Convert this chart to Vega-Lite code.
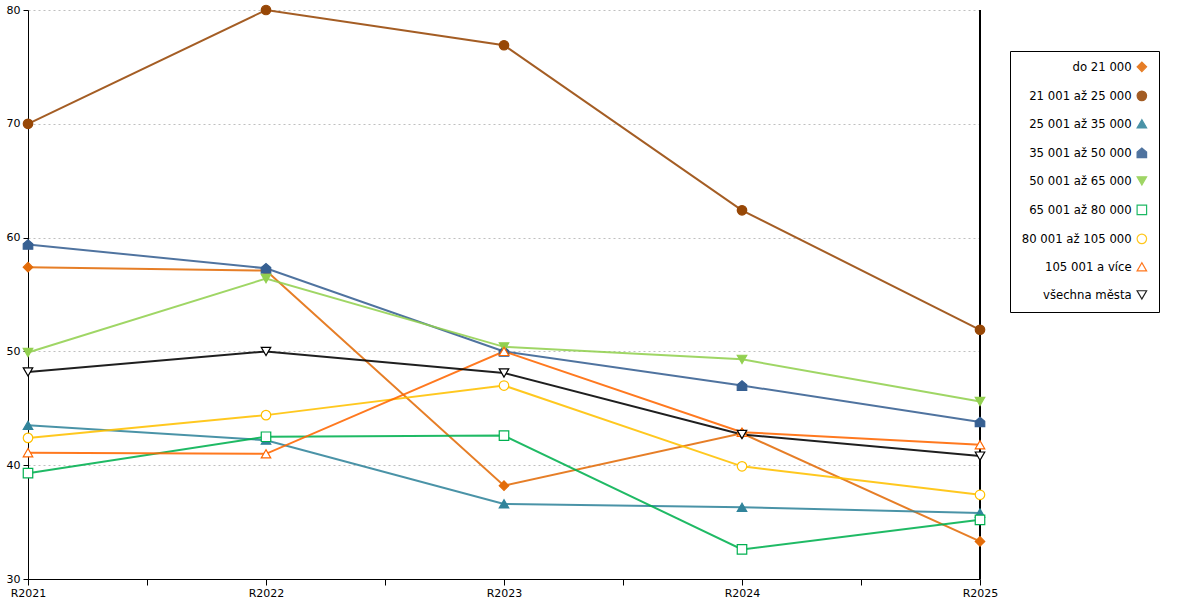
{
  "$schema": "https://vega.github.io/schema/vega-lite/v6.json",
  "width": 952,
  "height": 569,
  "padding": {"left": 6, "top": 2, "right": 0, "bottom": 0},
  "background": "white",
  "config": {
    "font": "DejaVu Sans",
    "view": {"stroke": null},
    "axis": {"labelFont": "DejaVu Sans", "labelFontSize": 11, "labelColor": "black", "domainColor": "black", "tickColor": "black"}
  },
  "data": {
    "values": [
      {"skupina": "do 21 000", "rok": 2021, "hodnota": 57.4},
      {"skupina": "do 21 000", "rok": 2022, "hodnota": 57.1},
      {"skupina": "do 21 000", "rok": 2023, "hodnota": 38.2},
      {"skupina": "do 21 000", "rok": 2024, "hodnota": 42.8},
      {"skupina": "do 21 000", "rok": 2025, "hodnota": 33.3},
      {"skupina": "21 001 až 25 000", "rok": 2021, "hodnota": 70.0},
      {"skupina": "21 001 až 25 000", "rok": 2022, "hodnota": 80.0},
      {"skupina": "21 001 až 25 000", "rok": 2023, "hodnota": 76.9},
      {"skupina": "21 001 až 25 000", "rok": 2024, "hodnota": 62.4},
      {"skupina": "21 001 až 25 000", "rok": 2025, "hodnota": 51.9},
      {"skupina": "25 001 až 35 000", "rok": 2021, "hodnota": 43.5},
      {"skupina": "25 001 až 35 000", "rok": 2022, "hodnota": 42.2},
      {"skupina": "25 001 až 35 000", "rok": 2023, "hodnota": 36.6},
      {"skupina": "25 001 až 35 000", "rok": 2024, "hodnota": 36.3},
      {"skupina": "25 001 až 35 000", "rok": 2025, "hodnota": 35.8},
      {"skupina": "35 001 až 50 000", "rok": 2021, "hodnota": 59.4},
      {"skupina": "35 001 až 50 000", "rok": 2022, "hodnota": 57.3},
      {"skupina": "35 001 až 50 000", "rok": 2023, "hodnota": 50.0},
      {"skupina": "35 001 až 50 000", "rok": 2024, "hodnota": 47.0},
      {"skupina": "35 001 až 50 000", "rok": 2025, "hodnota": 43.8},
      {"skupina": "50 001 až 65 000", "rok": 2021, "hodnota": 49.9},
      {"skupina": "50 001 až 65 000", "rok": 2022, "hodnota": 56.4},
      {"skupina": "50 001 až 65 000", "rok": 2023, "hodnota": 50.4},
      {"skupina": "50 001 až 65 000", "rok": 2024, "hodnota": 49.3},
      {"skupina": "50 001 až 65 000", "rok": 2025, "hodnota": 45.6},
      {"skupina": "65 001 až 80 000", "rok": 2021, "hodnota": 39.3},
      {"skupina": "65 001 až 80 000", "rok": 2022, "hodnota": 42.5},
      {"skupina": "65 001 až 80 000", "rok": 2023, "hodnota": 42.6},
      {"skupina": "65 001 až 80 000", "rok": 2024, "hodnota": 32.6},
      {"skupina": "65 001 až 80 000", "rok": 2025, "hodnota": 35.2},
      {"skupina": "80 001 až 105 000", "rok": 2021, "hodnota": 42.4},
      {"skupina": "80 001 až 105 000", "rok": 2022, "hodnota": 44.4},
      {"skupina": "80 001 až 105 000", "rok": 2023, "hodnota": 47.0},
      {"skupina": "80 001 až 105 000", "rok": 2024, "hodnota": 39.9},
      {"skupina": "80 001 až 105 000", "rok": 2025, "hodnota": 37.4},
      {"skupina": "105 001 a více", "rok": 2021, "hodnota": 41.1},
      {"skupina": "105 001 a více", "rok": 2022, "hodnota": 41.0},
      {"skupina": "105 001 a více", "rok": 2023, "hodnota": 50.0},
      {"skupina": "105 001 a více", "rok": 2024, "hodnota": 42.9},
      {"skupina": "105 001 a více", "rok": 2025, "hodnota": 41.8},
      {"skupina": "všechna města", "rok": 2021, "hodnota": 48.2},
      {"skupina": "všechna města", "rok": 2022, "hodnota": 50.0},
      {"skupina": "všechna města", "rok": 2023, "hodnota": 48.1},
      {"skupina": "všechna města", "rok": 2024, "hodnota": 42.7},
      {"skupina": "všechna města", "rok": 2025, "hodnota": 40.8}
    ]
  },
  "encoding": {
    "x": {
      "field": "rok", "type": "quantitative",
      "scale": {"domain": [2021, 2025], "nice": false, "zero": false},
      "axis": {
        "title": null, "grid": false,
        "values": [2021, 2021.5, 2022, 2022.5, 2023, 2023.5, 2024, 2024.5, 2025],
        "labelExpr": "datum.value % 1 == 0 ? 'R' + datum.value : ''",
        "tickSize": 6, "labelPadding": 2, "labelFontSize": 11, "labelFlush": false, "labelOverlap": false
      }
    },
    "y": {
      "field": "hodnota", "type": "quantitative",
      "scale": {"domain": [30, 80], "nice": false, "zero": false},
      "axis": {
        "title": null, "values": [30, 40, 50, 60, 70, 80],
        "tickSize": 5, "labelPadding": 3,
        "gridColor": "#bfbfbf", "gridDash": [2, 3], "gridWidth": 1
      }
    }
  },
  "layer": [
    {
      "mark": {"type": "rule", "color": "black", "strokeWidth": 1.5},
      "encoding": {"x": {"datum": 2025}, "y": null}
    },
    {
      "mark": {"type": "line", "strokeWidth": 2, "opacity": 0.88},
      "encoding": {
        "color": {"field": "skupina", "type": "nominal"}
      }
    },
    {
      "mark": {"type": "point", "size": 90, "opacity": 1, "strokeWidth": 1.2},
      "encoding": {
        "shape": {
          "field": "skupina", "type": "nominal",
          "scale": {
            "domain": ["do 21 000", "21 001 až 25 000", "25 001 až 35 000", "35 001 až 50 000", "50 001 až 65 000", "65 001 až 80 000", "80 001 až 105 000", "105 001 a více", "všechna města"],
            "range": ["diamond", "circle", "triangle-up", "M -1 1 L -1 -0.15 L 0 -1 L 1 -0.15 L 1 1 Z", "triangle-down", "square", "circle", "triangle-up", "triangle-down"]
          },
          "legend": {
            "title": null, "orient": "none", "legendX": 982, "legendY": 41,
            "strokeColor": "black", "padding": 10, "fillColor": "white",
            "labelFont": "DejaVu Sans", "labelFontSize": 11.7, "labelColor": "black",
            "labelAlign": "right", "labelOffset": -16, "symbolOffset": 116,
            "rowPadding": 14, "labelLimit": 200, "symbolSize": 90, "symbolStrokeWidth": 1.2
          }
        },
        "fill": {
          "field": "skupina", "type": "nominal",
          "scale": {
            "domain": ["do 21 000", "21 001 až 25 000", "25 001 až 35 000", "35 001 až 50 000", "50 001 až 65 000", "65 001 až 80 000", "80 001 až 105 000", "105 001 a více", "všechna města"],
            "range": ["#e36c09", "#974706", "#31849b", "#376092", "#92d050", "white", "white", "white", "white"]
          }
        },
        "color": {
          "field": "skupina", "type": "nominal",
          "scale": {
            "domain": ["do 21 000", "21 001 až 25 000", "25 001 až 35 000", "35 001 až 50 000", "50 001 až 65 000", "65 001 až 80 000", "80 001 až 105 000", "105 001 a více", "všechna města"],
            "range": ["#e36c09", "#974706", "#31849b", "#376092", "#92d050", "#00b050", "#ffc000", "#ff6600", "#000000"]
          }
        }
      }
    }
  ]
}
